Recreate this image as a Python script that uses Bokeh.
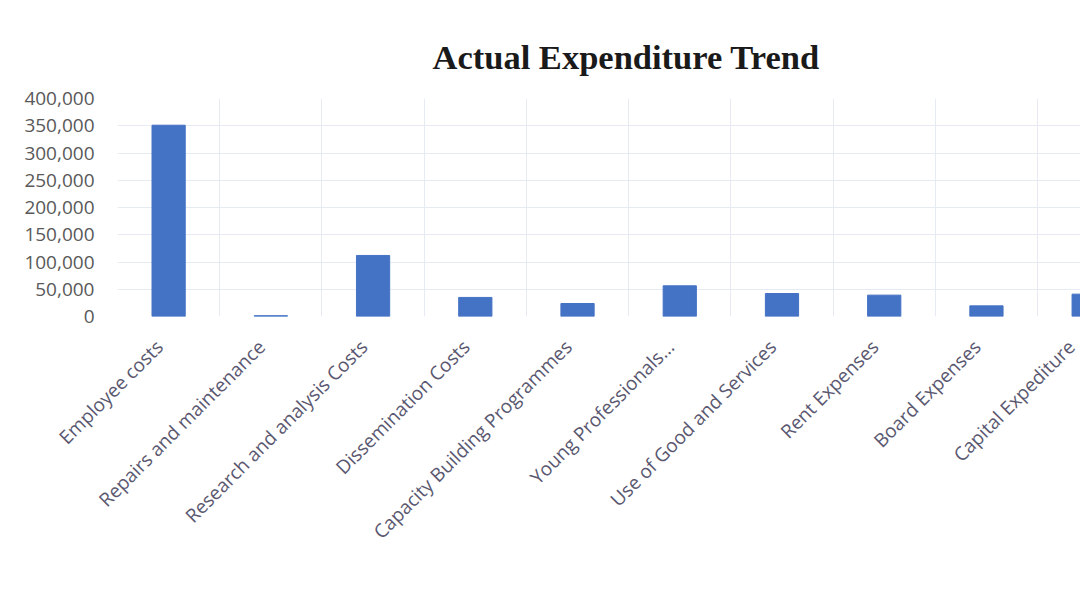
from bokeh.plotting import figure
from bokeh.models import FixedTicker, NumeralTickFormatter, Range1d, ColumnDataSource
from bokeh.embed import file_html
from bokeh.resources import INLINE
import math

categories = ["Employee costs", "Repairs and maintenance", "Research and analysis Costs",
              "Dissemination Costs", "Capacity Building Programmes", "Young Professionals...",
              "Use of Good and Services", "Rent Expenses", "Board Expenses", "Capital Expediture"]
values = [351000, 1500, 112000, 35000, 23800, 56300, 42200, 39200, 19500, 41000]
y_ticks = [0, 50000, 100000, 150000, 200000, 250000, 300000, 350000, 400000]

xs = [i + 0.5 for i in range(len(categories))]
label_xs = [x - 0.09 for x in xs]
src = ColumnDataSource(dict(x=xs, top=values, cat=categories))

p = figure(output_backend="svg", toolbar_location=None,
           frame_width=963, frame_height=218,
           x_range=Range1d(0, 9.42), y_range=Range1d(0, 400000),
           min_border_left=117, min_border_right=0, min_border_top=98,
           title="Actual Expenditure Trend")
p.outline_line_color = None
p.background_fill_color = "white"

p.vbar(x="x", top="top", width=0.325, source=src, color="#4472C4")

p.title.text_font = "Liberation Serif"
p.title.text_font_size = "34.5px"
p.title.text_font_style = "bold"
p.title.text_color = "#1a1a1a"
p.title.align = "left"
p.title.offset = 315
p.title.standoff = 45

p.yaxis.ticker = FixedTicker(ticks=y_ticks)
p.yaxis.formatter = NumeralTickFormatter(format="0,0")
p.yaxis.axis_line_color = None
p.yaxis.major_tick_line_color = None
p.yaxis.minor_tick_line_color = None
p.yaxis.major_tick_out = 0
p.yaxis.major_label_standoff = 23
p.yaxis.major_label_text_font = "Open Sans"
p.yaxis.major_label_text_font_size = "19px"
p.yaxis.major_label_text_color = "#595959"

p.xaxis.ticker = FixedTicker(ticks=label_xs)
p.xaxis.major_label_overrides = {x: c for x, c in zip(label_xs, categories)}
p.xaxis.major_label_orientation = math.pi / 4
p.xaxis.axis_line_color = None
p.xaxis.major_tick_line_color = None
p.xaxis.minor_tick_line_color = None
p.xaxis.major_tick_out = 0
p.xaxis.major_label_standoff = 27
p.xaxis.major_label_text_font = "Open Sans"
p.xaxis.major_label_text_font_size = "19px"
p.xaxis.major_label_text_color = "#5a5870"

p.xgrid.ticker = FixedTicker(ticks=list(range(0, 11)))
p.xgrid.grid_line_color = "#e6ebf3"
p.ygrid.grid_line_color = "#e6ebf3"

open("out.html", "w").write(file_html(p, INLINE))
